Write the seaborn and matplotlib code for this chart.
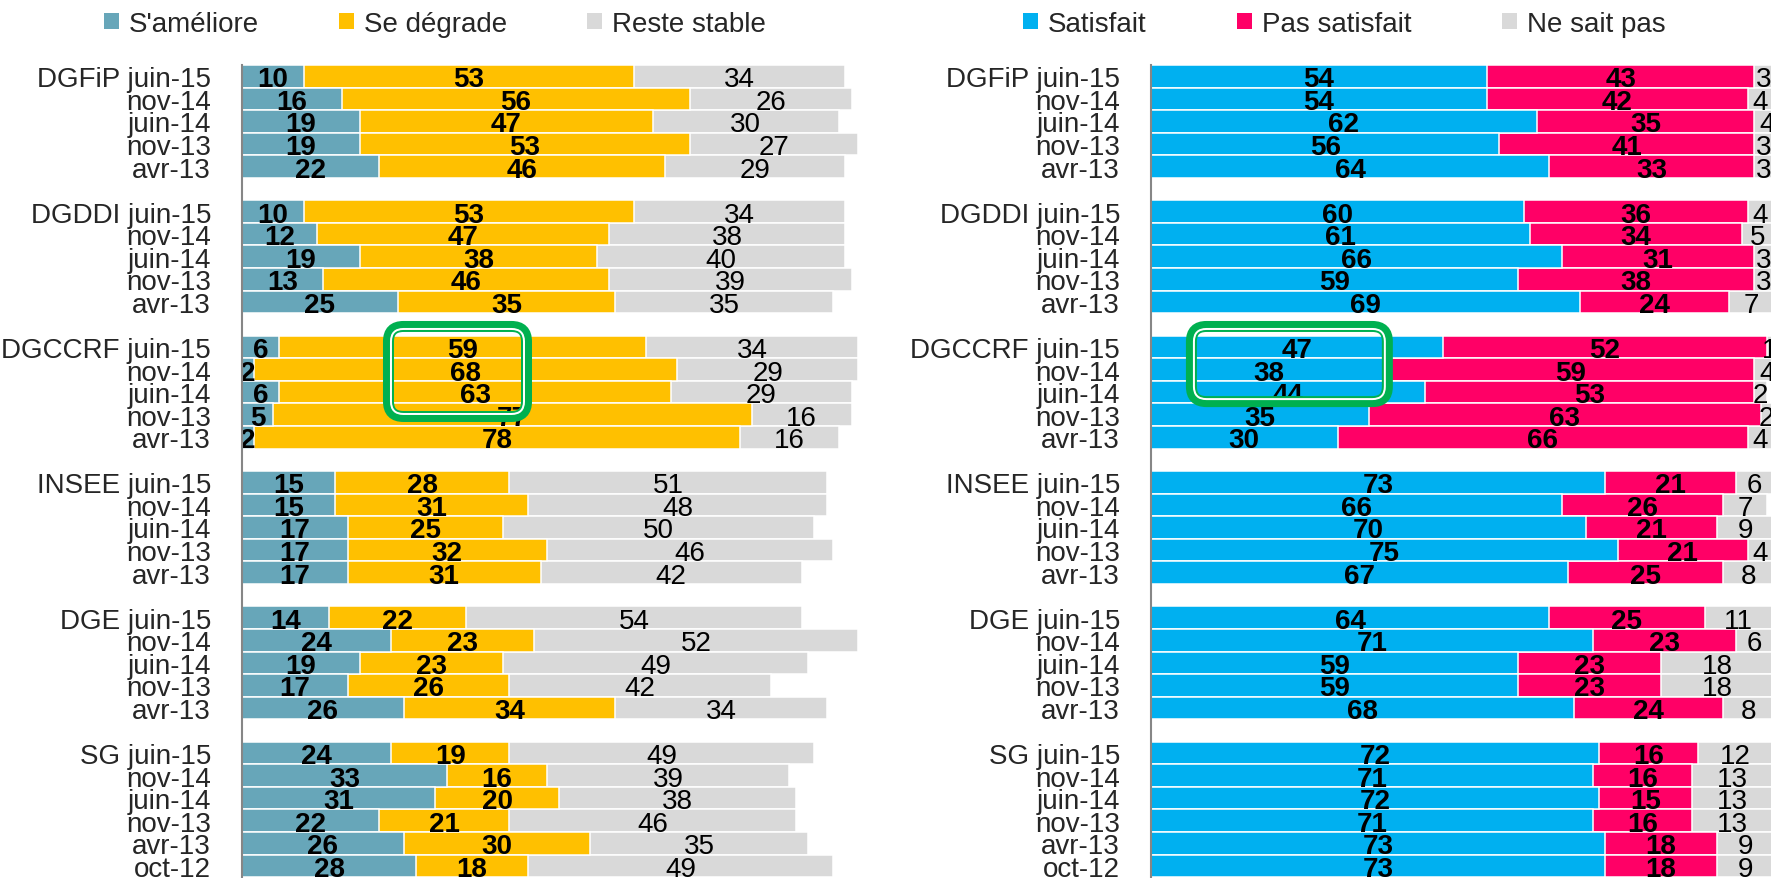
import numpy as np
import pandas as pd
import matplotlib
matplotlib.use("Agg")
import matplotlib.pyplot as plt
import seaborn as sns
from matplotlib.patches import Patch, FancyBboxPatch
from matplotlib.transforms import IdentityTransform

# ---------------- data ----------------
groups = ["DGFiP", "DGDDI", "DGCCRF", "INSEE", "DGE", "SG"]
group_dates = [
    ["juin-15", "nov-14", "juin-14", "nov-13", "avr-13"],
    ["juin-15", "nov-14", "juin-14", "nov-13", "avr-13"],
    ["juin-15", "nov-14", "juin-14", "nov-13", "avr-13"],
    ["juin-15", "nov-14", "juin-14", "nov-13", "avr-13"],
    ["juin-15", "nov-14", "juin-14", "nov-13", "avr-13"],
    ["juin-15", "nov-14", "juin-14", "nov-13", "avr-13", "oct-12"],
]

left_names = ["S'améliore", "Se dégrade", "Reste stable"]
ameliore = [10, 16, 19, 19, 22,
            10, 12, 19, 13, 25,
            6, 2, 6, 5, 2,
            15, 15, 17, 17, 17,
            14, 24, 19, 17, 26,
            24, 33, 31, 22, 26, 28]
degrade = [53, 56, 47, 53, 46,
           53, 47, 38, 46, 35,
           59, 68, 63, 77, 78,
           28, 31, 25, 32, 31,
           22, 23, 23, 26, 34,
           19, 16, 20, 21, 30, 18]
stable = [34, 26, 30, 27, 29,
          34, 38, 40, 39, 35,
          34, 29, 29, 16, 16,
          51, 48, 50, 46, 42,
          54, 52, 49, 42, 34,
          49, 39, 38, 46, 35, 49]

right_names = ["Satisfait", "Pas satisfait", "Ne sait pas"]
satisfait = [54, 54, 62, 56, 64,
             60, 61, 66, 59, 69,
             47, 38, 44, 35, 30,
             73, 66, 70, 75, 67,
             64, 71, 59, 59, 68,
             72, 71, 72, 71, 73, 73]
pas_satisfait = [43, 42, 35, 41, 33,
                 36, 34, 31, 38, 24,
                 52, 59, 53, 63, 66,
                 21, 26, 21, 21, 25,
                 25, 23, 23, 23, 24,
                 16, 16, 15, 16, 18, 18]
ne_sait_pas = [3, 4, 4, 3, 3,
               4, 5, 3, 3, 7,
               1, 4, 2, 2, 4,
               6, 7, 9, 4, 8,
               11, 6, 18, 18, 8,
               12, 13, 13, 13, 9, 9]

left_colors = ["#67A6B9", "#FFC000", "#D9D9D9"]
right_colors = ["#00B0F0", "#FF0066", "#D9D9D9"]

# ---------------- layout helpers ----------------
positions, labels = [], []
p = 0
for g, ds in zip(groups, group_dates):
    for j, d in enumerate(ds):
        positions.append(p)
        labels.append(f"{g} {d}" if j == 0 else d)
        p += 1
    p += 1
positions = np.array(positions, dtype=float)
n_slots = int(positions.max()) + 1

sns.set_style("white")
plt.rcParams["font.family"] = ["Liberation Sans", "DejaVu Sans"]
FS = 20

W, H = 1771, 879
fig = plt.figure(figsize=(W / 100, H / 100), dpi=100)

top_px = 66
slot_px = 22.56
ax_h_px = n_slots * slot_px
unit_px = 6.22
ax_w_px = 100 * unit_px

axL = fig.add_axes([242 / W, 1 - (top_px + ax_h_px) / H, ax_w_px / W, ax_h_px / H])
axR = fig.add_axes([1151 / W, 1 - (top_px + ax_h_px) / H, ax_w_px / W, ax_h_px / H])


def draw_panel(ax, series, colors):
    vals = [np.array(s, dtype=float) for s in series]
    cums = np.cumsum(np.vstack(vals), axis=0)
    df = pd.DataFrame({"pos": positions})
    for k in reversed(range(len(vals))):
        df["v"] = cums[k]
        sns.barplot(data=df, x="v", y="pos", orient="h", native_scale=True,
                    color=colors[k], saturation=1, width=1.0,
                    edgecolor="white", linewidth=1.1, errorbar=None, ax=ax)
    for k in range(len(vals)):
        starts = cums[k] - vals[k]
        for i in range(len(positions)):
            ax.text(starts[i] + vals[k][i] / 2, positions[i], f"{int(vals[k][i])}",
                    ha="center", va="center_baseline", fontsize=FS,
                    fontweight="bold" if k < 2 else "normal",
                    color="black", clip_on=False, zorder=5)
    ax.set_xlim(0, 100)
    ax.set_ylim(n_slots - 0.5, -0.5)
    ax.set_yticks(positions)
    ax.set_yticklabels(labels, fontsize=FS)
    ax.set_xticks([])
    ax.set_xlabel("")
    ax.set_ylabel("")
    ax.tick_params(axis="y", length=0, pad=22.3)
    for s in ["top", "right", "bottom"]:
        ax.spines[s].set_visible(False)
    ax.spines["left"].set_color("#868686")
    ax.spines["left"].set_linewidth(1.5)
    ax.spines["left"].set_zorder(6)


draw_panel(axL, [ameliore, degrade, stable], left_colors)
draw_panel(axR, [satisfait, pas_satisfait, ne_sait_pas], right_colors)

# ---------------- legends ----------------
def add_legend(names, colors, x_px, colspacing):
    handles = [Patch(facecolor=c, edgecolor="none", label=nm) for nm, c in zip(names, colors)]
    fig.legend(handles=handles, loc="center left", bbox_to_anchor=(x_px / W, 1 - 25 / H),
               ncol=3, frameon=False, fontsize=FS, handlelength=0.54, handleheight=0.5,
               handletextpad=0.36, columnspacing=colspacing, borderpad=0, borderaxespad=0)


add_legend(left_names, left_colors, 104, 2.87)
add_legend(right_names, right_colors, 1023, 3.26)

# ---------------- highlight boxes (annotation) ----------------
def highlight(ax, x0, x1, y0, y1):
    (px0, py0) = ax.transData.transform((x0, y1))
    (px1, py1) = ax.transData.transform((x1, y0))
    w, h = px1 - px0, py1 - py0
    outer = FancyBboxPatch((px0, py0), w, h, boxstyle="round,pad=0,rounding_size=15",
                           transform=IdentityTransform(), fill=False,
                           edgecolor="#00B050", linewidth=11 * 0.72, zorder=10)
    inset = 2.5
    inner = FancyBboxPatch((px0 + inset, py0 + inset), w - 2 * inset, h - 2 * inset,
                           boxstyle="round,pad=0,rounding_size=12.5",
                           transform=IdentityTransform(), fill=False,
                           edgecolor="white", linewidth=2 * 0.72, zorder=11)
    fig.patches.extend([outer, inner])


highlight(axL, 23.55, 45.74, 11.09, 15.08)
highlight(axR, 6.5, 38.0, 11.09, 14.42)

fig.savefig("out.png", dpi=100)
